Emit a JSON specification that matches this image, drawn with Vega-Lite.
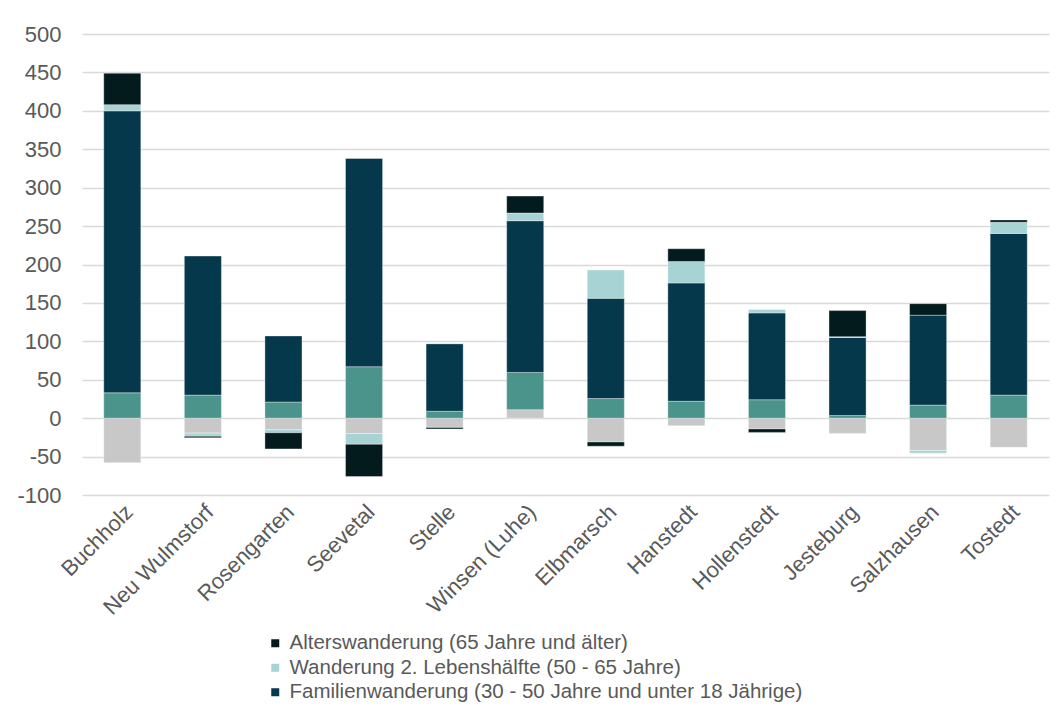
{
  "$schema": "https://vega.github.io/schema/vega-lite/v6.json",
  "autosize": {"type": "none"},
  "width": 967,
  "height": 461,
  "padding": {"left": 82, "top": 34, "right": 8, "bottom": 215},
  "background": "#ffffff",
  "config": {
    "font": "Liberation Sans",
    "view": {"stroke": null},
    "axis": {"labelFont": "Liberation Sans", "labelColor": "#595959"}
  },
  "data": {
    "values": [
      {"Gemeinde": "Buchholz", "Gruppe": "Bildungswanderung (18 - 25 Jahre)", "Saldo": -58},
      {"Gemeinde": "Buchholz", "Gruppe": "Berufswanderung (25 - 30 Jahre)", "Saldo": 33},
      {"Gemeinde": "Buchholz", "Gruppe": "Familienwanderung (30 - 50 Jahre und unter 18 Jährige)", "Saldo": 367},
      {"Gemeinde": "Buchholz", "Gruppe": "Wanderung 2. Lebenshälfte (50 - 65 Jahre)", "Saldo": 8},
      {"Gemeinde": "Buchholz", "Gruppe": "Alterswanderung (65 Jahre und älter)", "Saldo": 41},

      {"Gemeinde": "Neu Wulmstorf", "Gruppe": "Bildungswanderung (18 - 25 Jahre)", "Saldo": -19.5},
      {"Gemeinde": "Neu Wulmstorf", "Gruppe": "Berufswanderung (25 - 30 Jahre)", "Saldo": 30},
      {"Gemeinde": "Neu Wulmstorf", "Gruppe": "Familienwanderung (30 - 50 Jahre und unter 18 Jährige)", "Saldo": 181},
      {"Gemeinde": "Neu Wulmstorf", "Gruppe": "Wanderung 2. Lebenshälfte (50 - 65 Jahre)", "Saldo": -4},
      {"Gemeinde": "Neu Wulmstorf", "Gruppe": "Alterswanderung (65 Jahre und älter)", "Saldo": -2},

      {"Gemeinde": "Rosengarten", "Gruppe": "Bildungswanderung (18 - 25 Jahre)", "Saldo": -15},
      {"Gemeinde": "Rosengarten", "Gruppe": "Berufswanderung (25 - 30 Jahre)", "Saldo": 21},
      {"Gemeinde": "Rosengarten", "Gruppe": "Familienwanderung (30 - 50 Jahre und unter 18 Jährige)", "Saldo": 86},
      {"Gemeinde": "Rosengarten", "Gruppe": "Wanderung 2. Lebenshälfte (50 - 65 Jahre)", "Saldo": -4},
      {"Gemeinde": "Rosengarten", "Gruppe": "Alterswanderung (65 Jahre und älter)", "Saldo": -21},

      {"Gemeinde": "Seevetal", "Gruppe": "Bildungswanderung (18 - 25 Jahre)", "Saldo": -20},
      {"Gemeinde": "Seevetal", "Gruppe": "Berufswanderung (25 - 30 Jahre)", "Saldo": 67},
      {"Gemeinde": "Seevetal", "Gruppe": "Familienwanderung (30 - 50 Jahre und unter 18 Jährige)", "Saldo": 271},
      {"Gemeinde": "Seevetal", "Gruppe": "Wanderung 2. Lebenshälfte (50 - 65 Jahre)", "Saldo": -14},
      {"Gemeinde": "Seevetal", "Gruppe": "Alterswanderung (65 Jahre und älter)", "Saldo": -42},

      {"Gemeinde": "Stelle", "Gruppe": "Bildungswanderung (18 - 25 Jahre)", "Saldo": -12},
      {"Gemeinde": "Stelle", "Gruppe": "Berufswanderung (25 - 30 Jahre)", "Saldo": 9},
      {"Gemeinde": "Stelle", "Gruppe": "Familienwanderung (30 - 50 Jahre und unter 18 Jährige)", "Saldo": 88},
      {"Gemeinde": "Stelle", "Gruppe": "Wanderung 2. Lebenshälfte (50 - 65 Jahre)", "Saldo": 0},
      {"Gemeinde": "Stelle", "Gruppe": "Alterswanderung (65 Jahre und älter)", "Saldo": -2},

      {"Gemeinde": "Winsen (Luhe)", "Gruppe": "Bildungswanderung (18 - 25 Jahre)", "Saldo": 11},
      {"Gemeinde": "Winsen (Luhe)", "Gruppe": "Berufswanderung (25 - 30 Jahre)", "Saldo": 48.5},
      {"Gemeinde": "Winsen (Luhe)", "Gruppe": "Familienwanderung (30 - 50 Jahre und unter 18 Jährige)", "Saldo": 197.5},
      {"Gemeinde": "Winsen (Luhe)", "Gruppe": "Wanderung 2. Lebenshälfte (50 - 65 Jahre)", "Saldo": 10},
      {"Gemeinde": "Winsen (Luhe)", "Gruppe": "Alterswanderung (65 Jahre und älter)", "Saldo": 22},

      {"Gemeinde": "Elbmarsch", "Gruppe": "Bildungswanderung (18 - 25 Jahre)", "Saldo": -31},
      {"Gemeinde": "Elbmarsch", "Gruppe": "Berufswanderung (25 - 30 Jahre)", "Saldo": 25.5},
      {"Gemeinde": "Elbmarsch", "Gruppe": "Familienwanderung (30 - 50 Jahre und unter 18 Jährige)", "Saldo": 130.5},
      {"Gemeinde": "Elbmarsch", "Gruppe": "Wanderung 2. Lebenshälfte (50 - 65 Jahre)", "Saldo": 37},
      {"Gemeinde": "Elbmarsch", "Gruppe": "Alterswanderung (65 Jahre und älter)", "Saldo": -5.5},

      {"Gemeinde": "Hanstedt", "Gruppe": "Bildungswanderung (18 - 25 Jahre)", "Saldo": -10},
      {"Gemeinde": "Hanstedt", "Gruppe": "Berufswanderung (25 - 30 Jahre)", "Saldo": 22},
      {"Gemeinde": "Hanstedt", "Gruppe": "Familienwanderung (30 - 50 Jahre und unter 18 Jährige)", "Saldo": 154},
      {"Gemeinde": "Hanstedt", "Gruppe": "Wanderung 2. Lebenshälfte (50 - 65 Jahre)", "Saldo": 28},
      {"Gemeinde": "Hanstedt", "Gruppe": "Alterswanderung (65 Jahre und älter)", "Saldo": 16.5},

      {"Gemeinde": "Hollenstedt", "Gruppe": "Bildungswanderung (18 - 25 Jahre)", "Saldo": -14},
      {"Gemeinde": "Hollenstedt", "Gruppe": "Berufswanderung (25 - 30 Jahre)", "Saldo": 24},
      {"Gemeinde": "Hollenstedt", "Gruppe": "Familienwanderung (30 - 50 Jahre und unter 18 Jährige)", "Saldo": 113},
      {"Gemeinde": "Hollenstedt", "Gruppe": "Wanderung 2. Lebenshälfte (50 - 65 Jahre)", "Saldo": 4.5},
      {"Gemeinde": "Hollenstedt", "Gruppe": "Alterswanderung (65 Jahre und älter)", "Saldo": -4.5},

      {"Gemeinde": "Jesteburg", "Gruppe": "Bildungswanderung (18 - 25 Jahre)", "Saldo": -20},
      {"Gemeinde": "Jesteburg", "Gruppe": "Berufswanderung (25 - 30 Jahre)", "Saldo": 3.5},
      {"Gemeinde": "Jesteburg", "Gruppe": "Familienwanderung (30 - 50 Jahre und unter 18 Jährige)", "Saldo": 101.5},
      {"Gemeinde": "Jesteburg", "Gruppe": "Wanderung 2. Lebenshälfte (50 - 65 Jahre)", "Saldo": 1},
      {"Gemeinde": "Jesteburg", "Gruppe": "Alterswanderung (65 Jahre und älter)", "Saldo": 34},

      {"Gemeinde": "Salzhausen", "Gruppe": "Bildungswanderung (18 - 25 Jahre)", "Saldo": -42},
      {"Gemeinde": "Salzhausen", "Gruppe": "Berufswanderung (25 - 30 Jahre)", "Saldo": 17},
      {"Gemeinde": "Salzhausen", "Gruppe": "Familienwanderung (30 - 50 Jahre und unter 18 Jährige)", "Saldo": 117},
      {"Gemeinde": "Salzhausen", "Gruppe": "Wanderung 2. Lebenshälfte (50 - 65 Jahre)", "Saldo": -3.5},
      {"Gemeinde": "Salzhausen", "Gruppe": "Alterswanderung (65 Jahre und älter)", "Saldo": 15},

      {"Gemeinde": "Tostedt", "Gruppe": "Bildungswanderung (18 - 25 Jahre)", "Saldo": -38},
      {"Gemeinde": "Tostedt", "Gruppe": "Berufswanderung (25 - 30 Jahre)", "Saldo": 30},
      {"Gemeinde": "Tostedt", "Gruppe": "Familienwanderung (30 - 50 Jahre und unter 18 Jährige)", "Saldo": 210.5},
      {"Gemeinde": "Tostedt", "Gruppe": "Wanderung 2. Lebenshälfte (50 - 65 Jahre)", "Saldo": 14.5},
      {"Gemeinde": "Tostedt", "Gruppe": "Alterswanderung (65 Jahre und älter)", "Saldo": 3}
    ]
  },
  "transform": [
    {"calculate": "indexof(['Bildungswanderung (18 - 25 Jahre)', 'Berufswanderung (25 - 30 Jahre)', 'Familienwanderung (30 - 50 Jahre und unter 18 Jährige)', 'Wanderung 2. Lebenshälfte (50 - 65 Jahre)', 'Alterswanderung (65 Jahre und älter)'], datum.Gruppe)", "as": "Stapelfolge"}
  ],
  "mark": {"type": "bar", "stroke": "#ffffff", "strokeWidth": 0.7, "strokeOpacity": 0.5},
  "encoding": {
    "x": {
      "field": "Gemeinde",
      "type": "nominal",
      "sort": null,
      "scale": {"paddingInner": 0.54, "paddingOuter": 0.27},
      "axis": {
        "title": null,
        "domain": false,
        "ticks": false,
        "grid": false,
        "labelAngle": -45,
        "labelFontSize": 22,
        "labelPadding": 6,
        "labelLimit": 300
      }
    },
    "y": {
      "field": "Saldo",
      "type": "quantitative",
      "stack": "zero",
      "scale": {"domain": [-100, 500], "nice": false},
      "axis": {
        "title": null,
        "values": [-100, -50, 0, 50, 100, 150, 200, 250, 300, 350, 400, 450, 500],
        "labelExpr": "'' + datum.value",
        "domain": false,
        "ticks": false,
        "grid": true,
        "gridColor": "#d9d9d9",
        "gridWidth": 1.5,
        "labelFontSize": 22,
        "labelPadding": 21
      }
    },
    "color": {
      "field": "Gruppe",
      "type": "nominal",
      "scale": {
        "domain": [
          "Bildungswanderung (18 - 25 Jahre)",
          "Berufswanderung (25 - 30 Jahre)",
          "Familienwanderung (30 - 50 Jahre und unter 18 Jährige)",
          "Wanderung 2. Lebenshälfte (50 - 65 Jahre)",
          "Alterswanderung (65 Jahre und älter)"
        ],
        "range": ["#c8c8c8", "#4a948b", "#05384b", "#a7d3d4", "#031b1d"]
      },
      "legend": {
        "title": null,
        "orient": "none",
        "legendX": 183,
        "legendY": 599,
        "direction": "vertical",
        "values": [
          "Alterswanderung (65 Jahre und älter)",
          "Wanderung 2. Lebenshälfte (50 - 65 Jahre)",
          "Familienwanderung (30 - 50 Jahre und unter 18 Jährige)"
        ],
        "symbolType": "square",
        "symbolSize": 64,
        "symbolStrokeWidth": 0,
        "labelFontSize": 20.5,
        "labelColor": "#595959",
        "labelFont": "Liberation Sans",
        "labelOffset": 4,
        "labelLimit": 700,
        "rowPadding": 3.5
      }
    },
    "order": {"field": "Stapelfolge", "type": "quantitative"}
  }
}
